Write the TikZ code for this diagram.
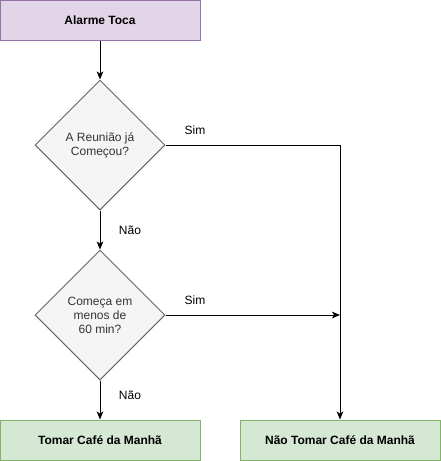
\documentclass[tikz,border=0pt]{standalone}
\usepackage{fontspec}
\setmainfont{Liberation Sans}
\usetikzlibrary{shapes.geometric,arrows.meta}
\definecolor{lavfill}{HTML}{E1D5E7}
\definecolor{lavline}{HTML}{9673A6}
\definecolor{grnfill}{HTML}{D5E8D4}
\definecolor{grnline}{HTML}{82B366}
\definecolor{gryfill}{HTML}{F5F5F5}
\definecolor{gryline}{HTML}{666666}
\definecolor{grytext}{HTML}{333333}
\begin{document}
\begin{tikzpicture}[x=0.75pt,y=-0.75pt,
  every node/.style={font=\fontsize{9}{10.5}\selectfont},
  boxfont/.style={font=\fontsize{9}{10.5}\selectfont\bfseries},
  purplebox/.style={boxfont,draw=lavline,fill=lavfill,line width=0.75pt,minimum width=150pt,minimum height=30pt,inner sep=0pt},
  greenbox/.style={boxfont,draw=grnline,fill=grnfill,line width=0.75pt,minimum width=150pt,minimum height=30pt,inner sep=0pt},
  decision/.style={diamond,draw=gryline,fill=gryfill,text=grytext,line width=0.75pt,minimum width=97.5pt,minimum height=97.5pt,inner sep=0pt,aspect=1,align=center},
  conn/.style={line width=0.75pt,-{Stealth[length=6pt,width=5pt,inset=1.5pt]}},
  plain/.style={line width=0.75pt},
  lbl/.style={inner sep=0pt}
]
\useasboundingbox (0,0) rectangle (441,461);
\node[purplebox] (alarm) at (100,20) {Alarme Toca};
\node[decision] (d1) at (100,145) {A Reunião já\\Começou?};
\node[decision] (d2) at (100,315) {Começa em\\menos de\\60 min?};
\node[greenbox] (tomar) at (100,440) {Tomar Café da Manhã};
\node[greenbox] (nao) at (340,440) {Não Tomar Café da Manhã};
\coordinate (c1) at (340,145);
\coordinate (c2) at (340,315);
\draw[conn] (alarm) -- (d1);
\draw[conn] (d1) -- (d2);
\draw[conn] (d2) -- (tomar);
\draw[plain] (d1.east) -- (c1);
\draw[conn] (c1) -- (nao);
\draw[conn] (d2.east) -- (c2);
\node[lbl] (s1) at (195,130) {Sim};
\node[lbl] (s2) at (195,300) {Sim};
\node[lbl] (n1) at (130,230) {Não};
\node[lbl] (n2) at (130,395) {Não};
\end{tikzpicture}
\end{document}
